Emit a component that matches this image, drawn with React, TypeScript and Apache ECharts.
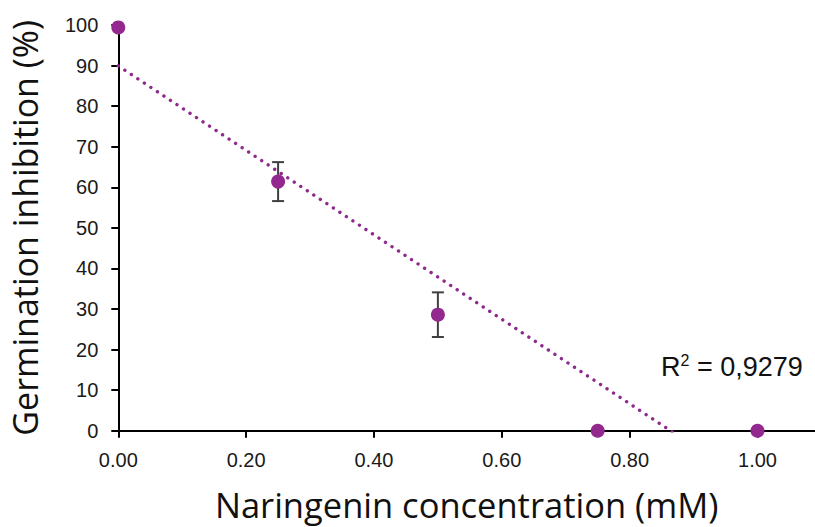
import React, { useEffect, useRef } from "react";
import * as echarts from "echarts";

const concentrations = [0, 0.25, 0.5, 0.75, 1.0];
const inhibition = [99.4, 61.4, 28.6, 0, 0];
const errors = [0, 4.8, 5.5, 0, 0];
const xTickValues = [0, 0.2, 0.4, 0.6, 0.8, 1.0];
const r2Label = "0,9279";
const xTitle = "Naringenin concentration (mM)";
const yTitle = "Germination inhibition (%)";

function linearFit(xs: number[], ys: number[]) {
  const n = xs.length;
  const mx = xs.reduce((a, b) => a + b, 0) / n;
  const my = ys.reduce((a, b) => a + b, 0) / n;
  let sxy = 0;
  let sxx = 0;
  for (let i = 0; i < n; i++) {
    sxy += (xs[i] - mx) * (ys[i] - my);
    sxx += (xs[i] - mx) * (xs[i] - mx);
  }
  const slope = sxy / sxx;
  return { slope, intercept: my - slope * mx };
}

export default function App() {
  const ref = useRef<HTMLDivElement>(null);
  useEffect(() => {
    if (!ref.current) return;
    const chart = echarts.init(ref.current, undefined, { renderer: "svg" });
    const fit = linearFit(concentrations, inhibition);
    const xStart = concentrations[0];
    const xEnd = concentrations[concentrations.length - 1];
    const trend = [
      [xStart, fit.intercept + fit.slope * xStart],
      [xEnd, fit.intercept + fit.slope * xEnd],
    ];
    const errData = concentrations
      .map((x, i) => [x, inhibition[i] - errors[i], inhibition[i] + errors[i], errors[i]])
      .filter((d) => d[3] > 0);
    const purple = "#93288F";
    const tickFont = "'Liberation Sans', Arial, sans-serif";
    const titleFont = "'Open Sans', 'Liberation Sans', sans-serif";

    chart.setOption({
      animation: false,
      backgroundColor: "#ffffff",
      grid: { left: 118.3, right: 0, top: 25, bottom: 96.3 },
      xAxis: {
        type: "value",
        min: 0,
        max: 1.09,
        name: xTitle,
        nameLocation: "middle",
        nameGap: 56,
        nameTextStyle: { fontFamily: titleFont, fontSize: 34.5, color: "#111" },
        axisLine: { show: true, onZero: false, lineStyle: { color: "#000", width: 2 } },
        axisTick: { show: true, length: 7, lineStyle: { color: "#000", width: 2 }, customValues: xTickValues },
        axisLabel: {
          customValues: xTickValues,
          margin: 19,
          fontFamily: tickFont,
          fontSize: 20,
          color: "#1a1a1a",
          formatter: (v: number) => v.toFixed(2),
        },
        splitLine: { show: false },
      },
      yAxis: {
        type: "value",
        min: 0,
        max: 100,
        interval: 10,
        name: yTitle,
        nameLocation: "middle",
        nameGap: 76,
        nameTextStyle: { fontFamily: titleFont, fontSize: 34, color: "#111" },
        axisLine: { show: true, lineStyle: { color: "#000", width: 2 } },
        axisTick: { show: true, length: 7, lineStyle: { color: "#000", width: 2 } },
        axisLabel: { margin: 20, fontFamily: tickFont, fontSize: 20, color: "#1a1a1a" },
        splitLine: { show: false },
      },
      series: [
        {
          type: "line",
          data: trend,
          symbol: "none",
          clip: true,
          lineStyle: { color: "#8E2A8C", width: 3.4, type: [0.01, 7.8], cap: "round" },
          z: 2,
        },
        {
          type: "custom",
          data: errData,
          clip: false,
          z: 3,
          renderItem: (params: any, api: any) => {
            const x = api.value(0);
            const top = api.coord([x, api.value(2)]);
            const bot = api.coord([x, api.value(1)]);
            const hw = 6;
            const style = { stroke: "#404040", lineWidth: 2 };
            return {
              type: "group",
              children: [
                { type: "line", shape: { x1: top[0], y1: top[1], x2: bot[0], y2: bot[1] }, style },
                { type: "line", shape: { x1: top[0] - hw, y1: top[1], x2: top[0] + hw, y2: top[1] }, style },
                { type: "line", shape: { x1: bot[0] - hw, y1: bot[1], x2: bot[0] + hw, y2: bot[1] }, style },
              ],
            };
          },
        },
        {
          type: "scatter",
          data: concentrations.map((x, i) => [x, inhibition[i]]),
          symbol: "circle",
          symbolSize: 14,
          itemStyle: { color: purple, opacity: 1 },
          clip: false,
          z: 4,
        },
      ],
      graphic: [
        {
          type: "text",
          left: 661,
          top: 352,
          style: {
            text: "{r|R}{s|2}{r| = " + r2Label + "}",
            fill: "#111",
            rich: {
              r: { fontFamily: tickFont, fontSize: 27, lineHeight: 30, fill: "#111" },
              s: { fontFamily: tickFont, fontSize: 16, lineHeight: 30, verticalAlign: "top", fill: "#111" },
            },
          },
        },
      ],
    });
    return () => chart.dispose();
  }, []);
  return (
    <div
      ref={ref}
      style={{ position: "fixed", left: 0, top: 0, width: 815, height: 527, background: "#fff" }}
    />
  );
}
